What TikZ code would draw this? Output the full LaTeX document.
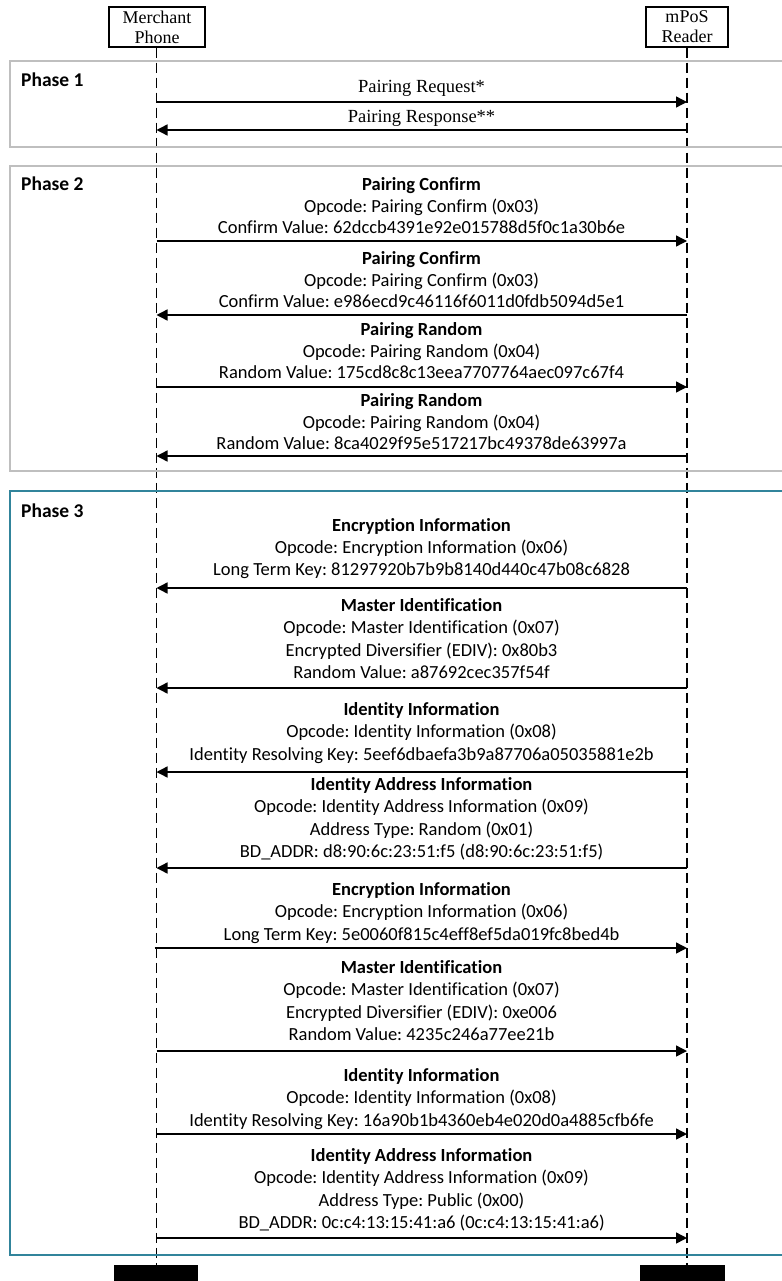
\documentclass[tikz,border=0pt]{standalone}
\usepackage{fontspec}
\setmainfont{Liberation Serif}
\newfontfamily\calfont[Ligatures={NoCommon}]{Carlito}
\usetikzlibrary{arrows.meta}
\frenchspacing
\definecolor{phasegray}{RGB}{191,191,191}
\definecolor{phaseteal}{RGB}{49,132,155}
\tikzset{
  actor/.style={draw, line width=1.5pt, inner sep=0pt, minimum height=40pt, align=center,
    font=\fontsize{18}{20}\selectfont},
  lifeline/.style={line width=1.4pt, dash pattern=on 10pt off 5pt},
  msgarrow/.style={line width=1.4pt, -{Triangle[length=11pt,width=11pt]}},
  msg/.style={font=\calfont\frenchspacing\fontsize{18.5}{22.3}\selectfont, align=center, anchor=base, inner sep=0pt},
  msgtwo/.style={font=\calfont\frenchspacing\fontsize{18.5}{21.7}\selectfont, align=center, anchor=base, inner sep=0pt},
  serifmsg/.style={font=\fontsize{18.5}{20}\selectfont, anchor=base, inner sep=0pt},
  phaselabel/.style={font=\calfont\bfseries\fontsize{19.5}{22}\selectfont, anchor=base west, inner sep=0pt},
  phaseframe/.style={line width=2pt},
  endbar/.style={fill=black, draw=none}
}
\begin{document}
\begin{tikzpicture}[x=1pt,y=-1pt]
\useasboundingbox (0,0) rectangle (781,1281);

% actors
\node[actor, minimum width=96pt] (mp) at (157,27) {Merchant\\Phone};
\node[actor, minimum width=82pt] (rd) at (687,27) {mPoS\\Reader};

% lifeline ends
\coordinate (mpend) at (156.5,1265);
\coordinate (rdend) at (687,1265);
\draw[lifeline] (mp.south -| mpend) -- (mpend);
\draw[lifeline] (rd.south -| rdend) -- (rdend);

% end bars
\fill[endbar] (113.5,1265) rectangle (197.7,1281);
\fill[endbar] (640,1265) rectangle (724.6,1281);

% phase frames
\draw[phaseframe, draw=phasegray] (790,61) -- (10,61) -- (10,147) -- (790,147);
\draw[phaseframe, draw=phasegray] (790,166) -- (10,166) -- (10,471) -- (790,471);
\draw[phaseframe, draw=phaseteal] (790,491) -- (10,491) -- (10,1255) -- (790,1255);

\node[phaselabel] (p1) at (21,86.7) {Phase 1};
\node[phaselabel] (p2) at (21,191) {Phase 2};
\node[phaselabel] (p3) at (21,517) {Phase 3};

% ---------------- Phase 1
\node[serifmsg] (t1) at (421.5,93) {Pairing Request*};
\coordinate (m1) at (156.5,102); \coordinate (r1) at (687,102);
\draw[msgarrow] (m1) -- (r1);
\node[serifmsg] (t2) at (421.5,123) {Pairing Response**};
\coordinate (m2) at (156.5,130); \coordinate (r2) at (687,130);
\draw[msgarrow] (r2) -- (m2);

% ---------------- Phase 2 (anchor = baseline of last line)
\node[msgtwo] (t3) at (421.5,233.9) {\textbf{Pairing Confirm}\\Opcode: Pairing Confirm (0x03)\\Confirm Value: 62dccb4391e92e015788d5f0c1a30b6e};
\coordinate (m3) at (156.5,241); \coordinate (r3) at (687,241);
\draw[msgarrow] (m3) -- (r3);

\node[msgtwo] (t4) at (421.5,307.9) {\textbf{Pairing Confirm}\\Opcode: Pairing Confirm (0x03)\\Confirm Value: e986ecd9c46116f6011d0fdb5094d5e1};
\coordinate (m4) at (156.5,315); \coordinate (r4) at (687,315);
\draw[msgarrow] (r4) -- (m4);

\node[msgtwo] (t5) at (421.5,378.9) {\textbf{Pairing Random}\\Opcode: Pairing Random (0x04)\\Random Value: 175cd8c8c13eea7707764aec097c67f4};
\coordinate (m5) at (156.5,387); \coordinate (r5) at (687,387);
\draw[msgarrow] (m5) -- (r5);

\node[msgtwo] (t6) at (421.5,449.9) {\textbf{Pairing Random}\\Opcode: Pairing Random (0x04)\\Random Value: 8ca4029f95e517217bc49378de63997a};
\coordinate (m6) at (156.5,456); \coordinate (r6) at (687,456);
\draw[msgarrow] (r6) -- (m6);

% ---------------- Phase 3
\node[msg] (t7) at (421.5,575.6) {\textbf{Encryption Information}\\Opcode: Encryption Information (0x06)\\Long Term Key: 81297920b7b9b8140d440c47b08c6828};
\coordinate (m7) at (156.5,588); \coordinate (r7) at (687,588);
\draw[msgarrow] (r7) -- (m7);

\node[msg] (t8) at (421.5,678.4) {\textbf{Master Identification}\\Opcode: Master Identification (0x07)\\Encrypted Diversifier (EDIV): 0x80b3\\Random Value: a87692cec357f54f};
\coordinate (m8) at (156.5,688); \coordinate (r8) at (687,688);
\draw[msgarrow] (r8) -- (m8);

\node[msg] (t9) at (421.5,760.1) {\textbf{Identity Information}\\Opcode: Identity Information (0x08)\\Identity Resolving Key: 5eef6dbaefa3b9a87706a05035881e2b};
\coordinate (m9) at (156.5,772); \coordinate (r9) at (687,772);
\draw[msgarrow] (r9) -- (m9);

\node[msg] (t10) at (421.5,857.4) {\textbf{Identity Address Information}\\Opcode: Identity Address Information (0x09)\\Address Type: Random (0x01)\\BD\_ADDR: d8:90:6c:23:51:f5 (d8:90:6c:23:51:f5)};
\coordinate (m10) at (156.5,868); \coordinate (r10) at (687,868);
\draw[msgarrow] (r10) -- (m10);

\node[msg] (t11) at (421.5,940.1) {\textbf{Encryption Information}\\Opcode: Encryption Information (0x06)\\Long Term Key: 5e0060f815c4eff8ef5da019fc8bed4b};
\coordinate (m11) at (154.5,948); \coordinate (r11) at (687,948);
\draw[msgarrow] (m11) -- (r11);

\node[msg] (t12) at (421.5,1040.4) {\textbf{Master Identification}\\Opcode: Master Identification (0x07)\\Encrypted Diversifier (EDIV): 0xe006\\Random Value: 4235c246a77ee21b};
\coordinate (m12) at (156.5,1051); \coordinate (r12) at (687,1051);
\draw[msgarrow] (m12) -- (r12);

\node[msg] (t13) at (421.5,1126.1) {\textbf{Identity Information}\\Opcode: Identity Information (0x08)\\Identity Resolving Key: 16a90b1b4360eb4e020d0a4885cfb6fe};
\coordinate (m13) at (156.5,1134); \coordinate (r13) at (687,1134);
\draw[msgarrow] (m13) -- (r13);

\node[msg] (t14) at (421.5,1228.4) {\textbf{Identity Address Information}\\Opcode: Identity Address Information (0x09)\\Address Type: Public (0x00)\\BD\_ADDR: 0c:c4:13:15:41:a6 (0c:c4:13:15:41:a6)};
\coordinate (m14) at (156.5,1238); \coordinate (r14) at (687,1238);
\draw[msgarrow] (m14) -- (r14);

\end{tikzpicture}
\end{document}
